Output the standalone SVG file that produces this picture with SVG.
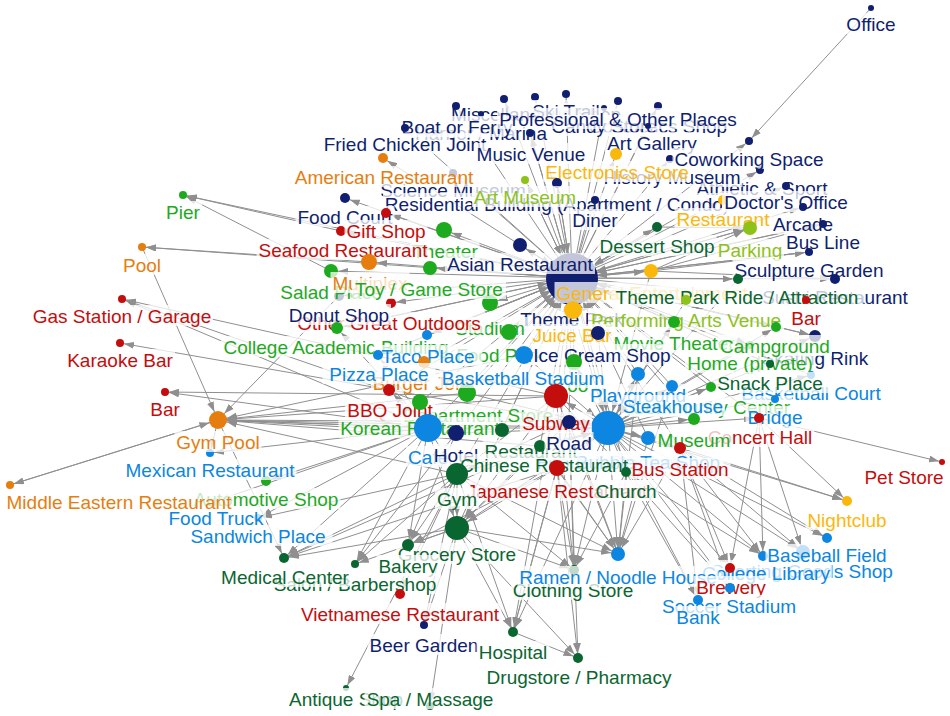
<svg xmlns="http://www.w3.org/2000/svg" width="950" height="716" viewBox="0 0 950 716">
<style>
#edges path{fill:none;stroke:#8f8f8f;stroke-width:1}
marker path{fill:#8f8f8f}
.r3{marker-end:url(#a3)}.r4{marker-end:url(#a4)}.r5{marker-end:url(#a5)}.r6{marker-end:url(#a6)}.r7{marker-end:url(#a7)}.r8{marker-end:url(#a8)}.r9{marker-end:url(#a9)}.r11{marker-end:url(#a11)}.r12{marker-end:url(#a12)}.r14{marker-end:url(#a14)}.r17{marker-end:url(#a17)}.r25{marker-end:url(#a25)}
text{font-family:"Liberation Sans",Arial,sans-serif;font-size:19px;text-anchor:middle}
.lb{fill:#fff;fill-opacity:.75}
.N{fill:#101f70}.O{fill:#e67e0f}.R{fill:#c40d0d}.G{fill:#1eaa1e}.D{fill:#0a6630}.B{fill:#0c86e0}.Y{fill:#fbb80c}.L{fill:#8cc21a}
</style>
<defs>
<marker id="a3" markerUnits="userSpaceOnUse" markerWidth="10" markerHeight="7" refX="13" refY="3.5" orient="auto"><path d="M0,0L10,3.5L0,7z"/></marker>
<marker id="a4" markerUnits="userSpaceOnUse" markerWidth="10" markerHeight="7" refX="14" refY="3.5" orient="auto"><path d="M0,0L10,3.5L0,7z"/></marker>
<marker id="a5" markerUnits="userSpaceOnUse" markerWidth="10" markerHeight="7" refX="15" refY="3.5" orient="auto"><path d="M0,0L10,3.5L0,7z"/></marker>
<marker id="a6" markerUnits="userSpaceOnUse" markerWidth="10" markerHeight="7" refX="16" refY="3.5" orient="auto"><path d="M0,0L10,3.5L0,7z"/></marker>
<marker id="a7" markerUnits="userSpaceOnUse" markerWidth="10" markerHeight="7" refX="17" refY="3.5" orient="auto"><path d="M0,0L10,3.5L0,7z"/></marker>
<marker id="a8" markerUnits="userSpaceOnUse" markerWidth="10" markerHeight="7" refX="18" refY="3.5" orient="auto"><path d="M0,0L10,3.5L0,7z"/></marker>
<marker id="a9" markerUnits="userSpaceOnUse" markerWidth="10" markerHeight="7" refX="19" refY="3.5" orient="auto"><path d="M0,0L10,3.5L0,7z"/></marker>
<marker id="a11" markerUnits="userSpaceOnUse" markerWidth="10" markerHeight="7" refX="21" refY="3.5" orient="auto"><path d="M0,0L10,3.5L0,7z"/></marker>
<marker id="a12" markerUnits="userSpaceOnUse" markerWidth="10" markerHeight="7" refX="22" refY="3.5" orient="auto"><path d="M0,0L10,3.5L0,7z"/></marker>
<marker id="a14" markerUnits="userSpaceOnUse" markerWidth="10" markerHeight="7" refX="24" refY="3.5" orient="auto"><path d="M0,0L10,3.5L0,7z"/></marker>
<marker id="a17" markerUnits="userSpaceOnUse" markerWidth="10" markerHeight="7" refX="27" refY="3.5" orient="auto"><path d="M0,0L10,3.5L0,7z"/></marker>
<marker id="a25" markerUnits="userSpaceOnUse" markerWidth="10" markerHeight="7" refX="35" refY="3.5" orient="auto"><path d="M0,0L10,3.5L0,7z"/></marker>
</defs>
<rect width="950" height="716" fill="#fff"/>
<g id="edges">
<path class="r4" d="M572 278L535 97"/><path class="r4" d="M572 278L566 94"/><path class="r4" d="M572 278L618 101"/><path class="r4" d="M572 278L504 99"/><path class="r4" d="M572 278L456 106"/><path class="r4" d="M572 278L405 128"/><path class="r4" d="M572 278L530 133"/><path class="r4" d="M572 278L658 106"/><path class="r4" d="M572 278L670 159"/><path class="r4" d="M572 278L749 141"/><path class="r4" d="M572 278L760 170"/><path class="r4" d="M572 278L786 186"/><path class="r4" d="M572 278L453 173"/><path class="r4" d="M572 278L525 180"/><path class="r4" d="M572 278L595 200"/><path class="r4" d="M572 278L803 207"/><path class="r4" d="M572 278L823 224"/><path class="r4" d="M572 278L809 252"/><path class="r4" d="M572 278L806 300"/><path class="r4" d="M572 278L750 345"/><path class="r4" d="M572 278L770 364"/><path class="r4" d="M572 278L183 195"/><path class="r4" d="M572 278L142 247"/>
<path class="r3" d="M572 278L604 108"/><path class="r3" d="M572 278L648 126"/>
<path class="r5" d="M572 278L557 183"/><path class="r5" d="M572 278L383 158"/><path class="r5" d="M572 278L345 198"/><path class="r5" d="M572 278L386 213"/><path class="r5" d="M572 278L723 200"/><path class="r5" d="M572 278L657 227"/><path class="r5" d="M572 278L341 231"/><path class="r5" d="M572 278L738 279"/><path class="r5" d="M572 278L835 279"/><path class="r5" d="M572 278L686 300"/><path class="r5" d="M572 278L776 327"/><path class="r5" d="M572 278L391 303"/><path class="r5" d="M572 278L339 296"/><path class="r5" d="M572 278L427 335"/><path class="r5" d="M572 278L378 355"/>
<path class="r6" d="M572 278L616 154"/><path class="r6" d="M572 278L815 336"/><path class="r6" d="M572 278L674 322"/><path class="r6" d="M572 278L337 328"/>
<path class="r7" d="M572 278L750 228"/><path class="r7" d="M572 278L651 271"/><path class="r7" d="M572 278L520 245"/><path class="r7" d="M572 278L331 271"/><path class="r7" d="M572 278L430 268"/><path class="r7" d="M572 278L598 333"/>
<path class="r8" d="M572 278L444 230"/><path class="r8" d="M572 278L369 262"/><path class="r8" d="M572 278L490 303"/><path class="r8" d="M572 278L509 332"/><path class="r9" d="M572 278L573 310"/>
<path class="r25" d="M524 355L572 278"/><path class="r25" d="M574 362L572 278"/><path class="r25" d="M556 396L572 278"/><path class="r25" d="M569 422L572 278"/><path class="r25" d="M608 428L572 278"/><path class="r25" d="M428 428L572 278"/><path class="r25" d="M467 393L572 278"/><path class="r25" d="M420 402L572 278"/><path class="r25" d="M424 362L572 278"/><path class="r25" d="M389 390L572 278"/><path class="r25" d="M456 433L572 278"/><path class="r25" d="M638 374L572 278"/><path class="r25" d="M672 386L572 278"/><path class="r25" d="M711 387L572 278"/><path class="r25" d="M694 419L572 278"/><path class="r25" d="M540 446L572 278"/><path class="r25" d="M557 468L572 278"/><path class="r25" d="M626 472L572 278"/><path class="r25" d="M457 474L572 278"/><path class="r25" d="M457 528L572 278"/><path class="r25" d="M502 430L572 278"/><path class="r25" d="M680 448L572 278"/><path class="r25" d="M648 438L572 278"/><path class="r25" d="M520 245L572 278"/><path class="r25" d="M525 180L572 278"/><path class="r25" d="M530 133L572 278"/><path class="r25" d="M657 227L572 278"/><path class="r25" d="M557 183L572 278"/><path class="r25" d="M651 271L572 278"/><path class="r25" d="M427 335L572 278"/><path class="r25" d="M337 328L572 278"/><path class="r25" d="M378 355L572 278"/><path class="r25" d="M823 224L572 278"/><path class="r25" d="M750 228L572 278"/><path class="r25" d="M809 252L572 278"/><path class="r25" d="M815 336L572 278"/><path class="r25" d="M776 327L572 278"/><path class="r25" d="M759 418L572 278"/><path class="r25" d="M811 375L572 278"/><path class="r25" d="M770 364L572 278"/>
<path class="r7" d="M608 428L638 374"/><path class="r7" d="M608 428L648 438"/><path class="r7" d="M608 428L569 422"/><path class="r7" d="M608 428L618 554"/><path class="r7" d="M608 428L803 552"/>
<path class="r6" d="M608 428L672 386"/><path class="r6" d="M608 428L694 419"/><path class="r6" d="M608 428L680 448"/><path class="r6" d="M608 428L674 322"/><path class="r6" d="M608 428L815 336"/>
<path class="r5" d="M608 428L711 387"/><path class="r5" d="M608 428L759 418"/><path class="r5" d="M608 428L626 472"/><path class="r5" d="M608 428L574 570"/><path class="r5" d="M608 428L730 588"/><path class="r5" d="M608 428L698 600"/><path class="r5" d="M608 428L730 568"/><path class="r5" d="M608 428L763 556"/><path class="r5" d="M608 428L827 538"/><path class="r5" d="M608 428L847 501"/><path class="r5" d="M608 428L513 632"/><path class="r5" d="M608 428L776 327"/>
<path class="r4" d="M608 428L770 364"/><path class="r4" d="M608 428L811 375"/><path class="r4" d="M608 428L775 399"/><path class="r4" d="M608 428L120 343"/><path class="r4" d="M608 428L750 345"/>
<path class="r12" d="M608 428L556 396"/><path class="r8" d="M608 428L557 468"/><path class="r8" d="M608 428L574 362"/><path class="r9" d="M608 428L218 420"/>
<path class="r17" d="M598 333L608 428"/><path class="r17" d="M573 310L608 428"/><path class="r17" d="M651 271L608 428"/><path class="r17" d="M686 300L608 428"/><path class="r17" d="M738 279L608 428"/><path class="r17" d="M428 428L608 428"/><path class="r17" d="M524 355L608 428"/><path class="r17" d="M456 433L608 428"/><path class="r17" d="M540 446L608 428"/><path class="r17" d="M457 474L608 428"/><path class="r17" d="M457 528L608 428"/><path class="r17" d="M467 393L608 428"/>
<path class="r9" d="M428 428L218 420"/><path class="r4" d="M428 428L122 299"/><path class="r4" d="M428 428L165 392"/><path class="r4" d="M428 428L210 453"/><path class="r5" d="M428 428L266 481"/><path class="r4" d="M428 428L216 501"/><path class="r4" d="M428 428L258 518"/><path class="r5" d="M428 428L284 558"/><path class="r4" d="M428 428L355 564"/><path class="r6" d="M428 428L408 545"/><path class="r8" d="M428 428L420 402"/><path class="r6" d="M428 428L389 390"/><path class="r5" d="M428 428L378 355"/><path class="r6" d="M428 428L337 328"/><path class="r12" d="M428 428L457 528"/><path class="r11" d="M428 428L457 474"/>
<path class="r5" d="M457 474L284 558"/><path class="r4" d="M457 474L355 564"/><path class="r6" d="M457 474L408 545"/><path class="r3" d="M457 474L346 688"/><path class="r5" d="M457 474L400 594"/><path class="r4" d="M457 474L424 625"/><path class="r5" d="M457 474L513 632"/><path class="r5" d="M457 474L574 570"/><path class="r7" d="M457 474L618 554"/><path class="r9" d="M457 474L218 420"/><path class="r4" d="M457 474L258 518"/><path class="r12" d="M457 474L457 528"/>
<path class="r4" d="M457 528L430 706"/><path class="r5" d="M457 528L513 632"/><path class="r5" d="M457 528L578 658"/><path class="r5" d="M457 528L284 558"/><path class="r4" d="M457 528L355 564"/><path class="r6" d="M457 528L408 545"/><path class="r5" d="M457 528L574 570"/><path class="r7" d="M457 528L618 554"/><path class="r4" d="M457 528L424 625"/>
<path class="r4" d="M556 396L165 392"/><path class="r9" d="M556 396L218 420"/><path class="r4" d="M556 396L122 299"/><path class="r7" d="M556 396L618 554"/><path class="r5" d="M556 396L574 570"/><path class="r5" d="M556 396L513 632"/><path class="r5" d="M556 396L626 472"/><path class="r12" d="M556 396L457 528"/><path class="r11" d="M556 396L457 474"/>
<path class="r7" d="M569 422L618 554"/><path class="r5" d="M569 422L574 570"/><path class="r5" d="M569 422L513 632"/><path class="r12" d="M569 422L457 528"/><path class="r11" d="M569 422L457 474"/><path class="r5" d="M569 422L578 658"/><path class="r9" d="M569 422L218 420"/>
<path class="r7" d="M557 468L618 554"/><path class="r5" d="M557 468L574 570"/><path class="r5" d="M557 468L578 658"/><path class="r5" d="M557 468L513 632"/><path class="r12" d="M557 468L457 528"/><path class="r6" d="M557 468L408 545"/><path class="r5" d="M557 468L284 558"/>
<path class="r7" d="M626 472L618 554"/><path class="r5" d="M626 472L698 600"/><path class="r5" d="M626 472L730 588"/><path class="r5" d="M626 472L763 556"/><path class="r5" d="M626 472L574 570"/>
<path class="r7" d="M680 448L803 552"/><path class="r5" d="M680 448L763 556"/><path class="r5" d="M680 448L827 538"/><path class="r5" d="M680 448L847 501"/><path class="r5" d="M680 448L730 588"/><path class="r5" d="M680 448L698 600"/><path class="r7" d="M680 448L618 554"/><path class="r5" d="M680 448L730 568"/>
<path class="r3" d="M759 418L942 462"/><path class="r5" d="M759 418L847 501"/><path class="r7" d="M759 418L803 552"/><path class="r5" d="M759 418L730 568"/><path class="r5" d="M759 418L763 556"/>
<path class="r7" d="M540 446L618 554"/><path class="r12" d="M540 446L457 528"/><path class="r9" d="M540 446L218 420"/><path class="r5" d="M540 446L284 558"/>
<path class="r9" d="M456 433L218 420"/><path class="r6" d="M456 433L408 545"/><path class="r4" d="M456 433L355 564"/>
<path class="r9" d="M524 355L218 420"/><path class="r9" d="M502 430L218 420"/><path class="r9" d="M467 393L218 420"/><path class="r4" d="M420 402L122 299"/>
<path class="r9" d="M142 247L218 420"/><path class="r4" d="M218 420L10 485"/><path class="r9" d="M10 485L218 420"/><path class="r9" d="M339 296L218 420"/>
<path class="r4" d="M331 271L183 195"/><path class="r4" d="M341 231L183 195"/><path class="r4" d="M369 262L142 247"/>
<path class="r4" d="M871 8L749 141"/><path class="r5" d="M513 632L578 658"/>
<path class="r7" d="M648 438L618 554"/><path class="r7" d="M672 386L618 554"/><path class="r7" d="M638 374L618 554"/>
<path class="r5" d="M218 420L284 558"/><path class="r4" d="M218 420L210 453"/>
<path class="r7" d="M651 271L750 228"/><path class="r4" d="M651 271L809 252"/><path class="r4" d="M651 271L823 224"/><path class="r7" d="M657 227L750 228"/><path class="r5" d="M651 271L835 279"/>
</g>
<g id="nodes">
<g id="n-msc"><circle class="N" cx="535" cy="97" r="4"/><rect class="lb" x="449" y="103" width="174" height="21"/><text class="N" x="536" y="121">Miscellaneous Shop</text></g>
<g id="n-ski"><circle class="N" cx="566" cy="94" r="4"/><rect class="lb" x="529.5" y="100" width="73" height="21"/><text class="N" x="566" y="118">Ski Trail</text></g>
<g id="n-504"><circle class="N" cx="504" cy="99" r="4"/></g>
<g id="n-cosm"><circle class="N" cx="658" cy="106" r="4"/><rect class="lb" x="587" y="115" width="142" height="21"/><text class="N" x="658" y="133">Cosmetics Shop</text></g>
<g id="n-candy"><circle class="N" cx="604" cy="108" r="3"/><rect class="lb" x="549" y="115" width="110" height="21"/><text class="N" x="604" y="133">Candy Store</text></g>
<g id="n-harb"><circle class="N" cx="481" cy="114" r="3"/><rect class="lb" x="413" y="122" width="136" height="21"/><text class="N" x="481" y="140">Harbor / Marina</text></g>
<g id="n-boat"><circle class="N" cx="456" cy="106" r="4"/><rect class="lb" x="399.5" y="116" width="115" height="21"/><text class="N" x="457" y="134">Boat or Ferry</text></g>
<g id="n-prf"><circle class="N" cx="618" cy="101" r="4"/><rect class="lb" x="497" y="108" width="242" height="21"/><text class="N" x="618" y="126">Professional &amp; Other Places</text></g>
<g id="n-artg"><circle class="N" cx="648" cy="126" r="3"/><rect class="lb" x="605" y="132" width="94" height="21"/><text class="N" x="652" y="150">Art Gallery</text></g>
<g id="n-fcj"><circle class="N" cx="405" cy="128" r="4"/><rect class="lb" x="321.5" y="133" width="167" height="21"/><text class="N" x="405" y="151">Fried Chicken Joint</text></g>
<g id="n-mus"><circle class="N" cx="530" cy="133" r="4"/><rect class="lb" x="474" y="143" width="114" height="21"/><text class="N" x="531" y="161">Music Venue</text></g>
<g id="n-athl"><circle class="N" cx="760" cy="170" r="4"/><rect class="lb" x="694.5" y="177" width="135" height="21"/><text class="N" x="762" y="195">Athletic &amp; Sport</text></g>
<g id="n-hist"><circle class="N" cx="670" cy="159" r="4"/><rect class="lb" x="601.5" y="166" width="141" height="21"/><text class="N" x="672" y="184">History Museum</text></g>
<g id="n-elec"><circle class="Y" cx="616" cy="154" r="6"/><rect class="lb" x="543" y="161" width="148" height="21"/><text class="Y" x="617" y="179">Electronics Store</text></g>
<g id="n-cowk"><circle class="N" cx="749" cy="141" r="4"/><rect class="lb" x="672.5" y="148" width="153" height="21"/><text class="N" x="749" y="166">Coworking Space</text></g>
<g id="n-off"><circle class="N" cx="871" cy="8" r="3"/><rect class="lb" x="844" y="13" width="54" height="21"/><text class="N" x="871" y="31">Office</text></g>
<g id="n-sci"><circle class="N" cx="453" cy="173" r="4"/><rect class="lb" x="378" y="179" width="150" height="21"/><text class="N" x="453" y="197">Science Museum</text></g>
<g id="n-resid"><circle class="N" cx="557" cy="183" r="5"/><rect class="lb" x="383" y="193" width="348" height="21"/><text class="N" x="557" y="211">Residential Building (Apartment / Condo)</text></g>
<g id="n-artm"><circle class="L" cx="525" cy="180" r="4"/><rect class="lb" x="472" y="186" width="106" height="21"/><text class="L" x="525" y="204">Art Museum</text></g>
<g id="n-amer"><circle class="O" cx="383" cy="158" r="5"/><rect class="lb" x="293" y="166" width="182" height="21"/><text class="O" x="384" y="184">American Restaurant</text></g>
<g id="n-fcourt"><circle class="N" cx="345" cy="198" r="5"/><rect class="lb" x="295.5" y="206" width="99" height="21"/><text class="N" x="345" y="224">Food Court</text></g>
<g id="n-theat"><circle class="G" cx="444" cy="230" r="8"/><rect class="lb" x="410.5" y="240" width="69" height="21"/><text class="G" x="445" y="258">Theater</text></g>
<g id="n-seaf"><circle class="R" cx="341" cy="231" r="5"/><rect class="lb" x="256.5" y="239" width="173" height="21"/><text class="R" x="343" y="257">Seafood Restaurant</text></g>
<g id="n-gift"><circle class="R" cx="386" cy="213" r="5"/><rect class="lb" x="344.5" y="220" width="83" height="21"/><text class="R" x="386" y="238">Gift Shop</text></g>
<g id="n-diner"><circle class="N" cx="595" cy="200" r="4"/><rect class="lb" x="570.5" y="209" width="49" height="21"/><text class="N" x="595" y="227">Diner</text></g>
<g id="n-resty"><circle class="Y" cx="723" cy="200" r="5"/><rect class="lb" x="674.5" y="208" width="97" height="21"/><text class="Y" x="723" y="226">Restaurant</text></g>
<g id="n-doc"><circle class="N" cx="786" cy="186" r="4"/><rect class="lb" x="722" y="191" width="128" height="21"/><text class="N" x="786" y="209">Doctor's Office</text></g>
<g id="n-arc"><circle class="N" cx="803" cy="207" r="4"/><rect class="lb" x="771" y="213" width="64" height="21"/><text class="N" x="803" y="231">Arcade</text></g>
<g id="n-bus"><circle class="N" cx="823" cy="224" r="4"/><rect class="lb" x="784" y="231" width="78" height="21"/><text class="N" x="823" y="249">Bus Line</text></g>
<g id="n-park"><circle class="L" cx="750" cy="228" r="7"/><rect class="lb" x="716" y="239" width="68" height="21"/><text class="L" x="750" y="257">Parking</text></g>
<g id="n-sculp"><circle class="N" cx="809" cy="252" r="4"/><rect class="lb" x="732.5" y="259" width="153" height="21"/><text class="N" x="809" y="277">Sculpture Garden</text></g>
<g id="n-dess"><circle class="D" cx="657" cy="227" r="5"/><rect class="lb" x="597.5" y="235" width="119" height="21"/><text class="D" x="657" y="253">Dessert Shop</text></g>
<g id="n-tp"><circle class="N" cx="572" cy="279" r="26"/><rect class="lb" x="518.5" y="308" width="107" height="21"/><text class="N" x="572" y="326">Theme Park</text></g>
<g id="n-asian"><circle class="N" cx="520" cy="245" r="7"/><rect class="lb" x="445" y="253" width="150" height="21"/><text class="N" x="520" y="271">Asian Restaurant</text></g>
<g id="n-sushi"><circle class="N" cx="835" cy="279" r="5"/><rect class="lb" x="760" y="286" width="150" height="21"/><text class="N" x="835" y="304">Sushi Restaurant</text></g>
<g id="n-gen"><circle class="Y" cx="651" cy="271" r="7"/><rect class="lb" x="554.5" y="282" width="195" height="21"/><text class="Y" x="652" y="300">General Entertainment</text></g>
<g id="n-tpr"><circle class="D" cx="738" cy="279" r="5"/><rect class="lb" x="610.5" y="286" width="253" height="21"/><text class="D" x="737" y="304">Theme Park Ride / Attraction</text></g>
<g id="n-perf"><circle class="L" cx="686" cy="300" r="5"/><rect class="lb" x="588" y="309" width="196" height="21"/><text class="L" x="686" y="327">Performing Arts Venue</text></g>
<g id="n-juice"><circle class="Y" cx="573" cy="310" r="9"/><rect class="lb" x="530.5" y="324" width="83" height="21"/><text class="Y" x="572" y="342">Juice Bar</text></g>
<g id="n-barr"><circle class="R" cx="806" cy="300" r="4"/><rect class="lb" x="789" y="307" width="34" height="21"/><text class="R" x="806" y="325">Bar</text></g>
<g id="n-skate"><circle class="N" cx="815" cy="336" r="6"/><rect class="lb" x="759.5" y="347" width="111" height="21"/><text class="N" x="815" y="365">Skating Rink</text></g>
<g id="n-movie"><circle class="G" cx="674" cy="322" r="6"/><rect class="lb" x="611.5" y="332" width="125" height="21"/><text class="G" x="674" y="350">Movie Theater</text></g>
<g id="n-home"><circle class="G" cx="750" cy="345" r="4"/><rect class="lb" x="685" y="352" width="130" height="21"/><text class="G" x="750" y="370">Home (private)</text></g>
<g id="n-camp"><circle class="G" cx="776" cy="327" r="5"/><rect class="lb" x="718" y="335" width="114" height="21"/><text class="G" x="775" y="353">Campground</text></g>
<g id="n-bcourt"><circle class="B" cx="811" cy="375" r="4"/><rect class="lb" x="739.5" y="382" width="143" height="21"/><text class="B" x="811" y="400">Basketball Court</text></g>
<g id="n-snack"><circle class="D" cx="770" cy="364" r="4"/><rect class="lb" x="710.5" y="372" width="119" height="21"/><text class="D" x="770" y="390">Snack Place</text></g>
<g id="n-comm"><circle class="G" cx="711" cy="387" r="5"/><rect class="lb" x="630" y="396" width="162" height="21"/><text class="G" x="711" y="414">Community Center</text></g>
<g id="n-bridge"><circle class="B" cx="775" cy="399" r="4"/><rect class="lb" x="745.5" y="406" width="59" height="21"/><text class="B" x="775" y="424">Bridge</text></g>
<g id="n-conc"><circle class="R" cx="759" cy="418" r="5"/><rect class="lb" x="705.5" y="426" width="109" height="21"/><text class="R" x="760" y="444">Concert Hall</text></g>
<g id="n-play"><circle class="B" cx="638" cy="374" r="7"/><rect class="lb" x="588" y="384" width="100" height="21"/><text class="B" x="638" y="402">Playground</text></g>
<g id="n-steak"><circle class="B" cx="672" cy="386" r="6"/><rect class="lb" x="621" y="395" width="104" height="21"/><text class="B" x="673" y="413">Steakhouse</text></g>
<g id="n-muse"><circle class="G" cx="694" cy="419" r="6"/><rect class="lb" x="655.5" y="429" width="77" height="21"/><text class="G" x="694" y="447">Museum</text></g>
<g id="n-bb"><circle class="B" cx="608" cy="428" r="17"/><rect class="lb" x="534.5" y="451" width="147" height="21"/><text class="B" x="608" y="469">Football Stadium</text></g>
<g id="n-bubble"><circle class="B" cx="648" cy="438" r="7"/><rect class="lb" x="572.5" y="451" width="151" height="21"/><text class="B" x="648" y="469">Bubble Tea Shop</text></g>
<g id="n-busst"><circle class="R" cx="680" cy="448" r="6"/><rect class="lb" x="629.5" y="458" width="101" height="21"/><text class="R" x="680" y="476">Bus Station</text></g>
<g id="n-stad"><circle class="G" cx="490" cy="303" r="8"/><rect class="lb" x="453" y="317" width="74" height="21"/><text class="G" x="490" y="335">Stadium</text></g>
<g id="n-ogo"><circle class="R" cx="391" cy="303" r="5"/><rect class="lb" x="292.5" y="312" width="193" height="21"/><text class="R" x="389" y="330">Other Great Outdoors</text></g>
<g id="n-donut"><circle class="N" cx="339" cy="296" r="5"/><rect class="lb" x="287" y="304" width="104" height="21"/><text class="N" x="339" y="322">Donut Shop</text></g>
<g id="n-salad"><circle class="G" cx="331" cy="271" r="7"/><rect class="lb" x="278.5" y="281" width="105" height="21"/><text class="G" x="331" y="299">Salad Place</text></g>
<g id="n-multi"><circle class="O" cx="369" cy="262" r="8"/><rect class="lb" x="330.5" y="272" width="79" height="21"/><text class="O" x="370" y="290">Multiplex</text></g>
<g id="n-toy"><circle class="G" cx="430" cy="268" r="7"/><rect class="lb" x="352" y="278" width="154" height="21"/><text class="G" x="429" y="296">Toy / Game Store</text></g>
<g id="n-coll"><circle class="G" cx="337" cy="328" r="6"/><rect class="lb" x="221" y="336" width="230" height="21"/><text class="G" x="336" y="354">College Academic Building</text></g>
<g id="n-fpark"><circle class="G" cx="509" cy="332" r="8"/><rect class="lb" x="454" y="344" width="92" height="21"/><text class="G" x="500" y="362">Food Park</text></g>
<g id="n-taco"><circle class="B" cx="427" cy="335" r="5"/><rect class="lb" x="373.5" y="345" width="109" height="21"/><text class="B" x="428" y="363">Taco Place</text></g>
<g id="n-ice"><circle class="N" cx="598" cy="333" r="7"/><rect class="lb" x="531.5" y="344" width="141" height="21"/><text class="N" x="602" y="362">Ice Cream Shop</text></g>
<g id="n-burger"><circle class="O" cx="424" cy="362" r="6"/><rect class="lb" x="371" y="372" width="106" height="21"/><text class="O" x="424" y="390">Burger Joint</text></g>
<g id="n-pizza"><circle class="B" cx="378" cy="355" r="5"/><rect class="lb" x="322.5" y="363" width="113" height="21"/><text class="B" x="379" y="381">Pizza Place</text></g>
<g id="n-zoo"><circle class="G" cx="574" cy="362" r="8"/><rect class="lb" x="553.5" y="374" width="37" height="21"/><text class="G" x="572" y="392">Zoo</text></g>
<g id="n-dept"><circle class="G" cx="467" cy="393" r="9"/><rect class="lb" x="401" y="404" width="154" height="21"/><text class="G" x="478" y="422">Department Store</text></g>
<g id="n-bstad"><circle class="B" cx="524" cy="355" r="9"/><rect class="lb" x="439.5" y="367" width="167" height="21"/><text class="B" x="523" y="385">Basketball Stadium</text></g>
<g id="n-bbq"><circle class="R" cx="389" cy="390" r="6"/><rect class="lb" x="345" y="399" width="90" height="21"/><text class="R" x="390" y="417">BBQ Joint</text></g>
<g id="n-korean"><circle class="G" cx="420" cy="402" r="8"/><rect class="lb" x="338.5" y="417" width="163" height="21"/><text class="G" x="420" y="435">Korean Restaurant</text></g>
<g id="n-cafe"><circle class="B" cx="428" cy="428" r="14"/><rect class="lb" x="406" y="446" width="44" height="21"/><text class="B" x="428" y="464">Café</text></g>
<g id="n-hotel"><circle class="N" cx="456" cy="433" r="8"/><rect class="lb" x="432" y="444" width="48" height="21"/><text class="N" x="456" y="462">Hotel</text></g>
<g id="n-restg"><circle class="D" cx="502" cy="430" r="7"/><rect class="lb" x="482.5" y="440" width="97" height="21"/><text class="D" x="531" y="458">Restaurant</text></g>
<g id="n-chin"><circle class="D" cx="540" cy="446" r="6"/><rect class="lb" x="458" y="454" width="172" height="21"/><text class="D" x="544" y="472">Chinese Restaurant</text></g>
<g id="n-subw"><circle class="R" cx="556" cy="396" r="12"/><rect class="lb" x="520" y="412" width="72" height="21"/><text class="R" x="556" y="430">Subway</text></g>
<g id="n-road"><circle class="N" cx="569" cy="422" r="7"/><rect class="lb" x="544.5" y="432" width="49" height="21"/><text class="N" x="569" y="450">Road</text></g>
<g id="n-jap"><circle class="R" cx="557" cy="468" r="8"/><rect class="lb" x="464.5" y="480" width="185" height="21"/><text class="R" x="557" y="498">Japanese Restaurant</text></g>
<g id="n-church"><circle class="D" cx="626" cy="472" r="5"/><rect class="lb" x="593.5" y="480" width="65" height="21"/><text class="D" x="626" y="498">Church</text></g>
<g id="n-gym"><circle class="D" cx="457" cy="474" r="11"/><rect class="lb" x="435" y="488" width="44" height="21"/><text class="D" x="457" y="506">Gym</text></g>
<g id="n-groc"><circle class="D" cx="457" cy="528" r="12"/><rect class="lb" x="396" y="543" width="122" height="21"/><text class="D" x="457" y="561">Grocery Store</text></g>
<g id="n-bak"><circle class="D" cx="408" cy="545" r="6"/><rect class="lb" x="376.5" y="555" width="63" height="21"/><text class="D" x="408" y="573">Bakery</text></g>
<g id="n-sand"><circle class="B" cx="258" cy="518" r="4"/><rect class="lb" x="183.5" y="525" width="149" height="21"/><text class="B" x="258" y="543">Sandwich Place</text></g>
<g id="n-ftruck"><circle class="B" cx="216" cy="501" r="4"/><rect class="lb" x="166" y="507" width="100" height="21"/><text class="B" x="216" y="525">Food Truck</text></g>
<g id="n-auto"><circle class="G" cx="266" cy="481" r="5"/><rect class="lb" x="191.5" y="488" width="149" height="21"/><text class="G" x="266" y="506">Automotive Shop</text></g>
<g id="n-mid"><circle class="O" cx="10" cy="485" r="4"/><rect class="lb" x="4.5" y="491" width="229" height="21"/><text class="O" x="119" y="509">Middle Eastern Restaurant</text></g>
<g id="n-mex"><circle class="B" cx="210" cy="453" r="4"/><rect class="lb" x="123.5" y="459" width="173" height="21"/><text class="B" x="210" y="477">Mexican Restaurant</text></g>
<g id="n-gp"><circle class="O" cx="218" cy="420" r="9"/><rect class="lb" x="174.5" y="431" width="87" height="21"/><text class="O" x="218" y="449">Gym Pool</text></g>
<g id="n-bar2"><circle class="R" cx="165" cy="392" r="4"/><rect class="lb" x="148" y="398" width="34" height="21"/><text class="R" x="165" y="416">Bar</text></g>
<g id="n-kara"><circle class="R" cx="120" cy="343" r="4"/><rect class="lb" x="65" y="349" width="110" height="21"/><text class="R" x="120" y="367">Karaoke Bar</text></g>
<g id="n-gas"><circle class="R" cx="122" cy="299" r="4"/><rect class="lb" x="31" y="305" width="182" height="21"/><text class="R" x="122" y="323">Gas Station / Garage</text></g>
<g id="n-pool"><circle class="O" cx="142" cy="247" r="4"/><rect class="lb" x="121" y="254" width="42" height="21"/><text class="O" x="142" y="272">Pool</text></g>
<g id="n-pier"><circle class="G" cx="183" cy="195" r="4"/><rect class="lb" x="164" y="201" width="38" height="21"/><text class="G" x="183" y="219">Pier</text></g>
<g id="n-salon"><circle class="D" cx="355" cy="564" r="4"/><rect class="lb" x="269" y="573" width="172" height="21"/><text class="D" x="355" y="591">Salon / Barbershop</text></g>
<g id="n-med"><circle class="D" cx="284" cy="558" r="5"/><rect class="lb" x="221" y="566" width="128" height="21"/><text class="D" x="285" y="584">Medical Center</text></g>
<g id="n-viet"><circle class="R" cx="400" cy="594" r="5"/><rect class="lb" x="298.5" y="603" width="203" height="21"/><text class="R" x="400" y="621">Vietnamese Restaurant</text></g>
<g id="n-beer"><circle class="N" cx="424" cy="625" r="4"/><rect class="lb" x="367.5" y="634" width="113" height="21"/><text class="N" x="424" y="652">Beer Garden</text></g>
<g id="n-anti"><circle class="D" cx="346" cy="688" r="3"/><rect class="lb" x="287" y="688" width="118" height="21"/><text class="D" x="346" y="706">Antique Shop</text></g>
<g id="n-spa"><circle class="D" cx="430" cy="706" r="4"/><rect class="lb" x="364.5" y="688" width="131" height="21"/><text class="D" x="430" y="706">Spa / Massage</text></g>
<g id="n-hosp"><circle class="D" cx="513" cy="632" r="5"/><rect class="lb" x="476.5" y="641" width="73" height="21"/><text class="D" x="513" y="659">Hospital</text></g>
<g id="n-drug"><circle class="D" cx="578" cy="658" r="5"/><rect class="lb" x="484.5" y="666" width="189" height="21"/><text class="D" x="579" y="684">Drugstore / Pharmacy</text></g>
<g id="n-cloth"><circle class="D" cx="574" cy="570" r="5"/><rect class="lb" x="511" y="579" width="124" height="21"/><text class="D" x="573" y="597">Clothing Store</text></g>
<g id="n-sport"><circle class="B" cx="803" cy="552" r="7"/><rect class="lb" x="709" y="560" width="186" height="21"/><text class="B" x="802" y="578">Sporting Goods Shop</text></g>
<g id="n-lib"><circle class="B" cx="763" cy="556" r="5"/><rect class="lb" x="700" y="562" width="132" height="21"/><text class="B" x="766" y="580">College Library</text></g>
<g id="n-ramen"><circle class="B" cx="618" cy="554" r="7"/><rect class="lb" x="517.5" y="566" width="201" height="21"/><text class="B" x="618" y="584">Ramen / Noodle House</text></g>
<g id="n-brew"><circle class="R" cx="730" cy="568" r="5"/><rect class="lb" x="694" y="576" width="74" height="21"/><text class="R" x="731" y="594">Brewery</text></g>
<g id="n-socc"><circle class="B" cx="730" cy="588" r="5"/><rect class="lb" x="660" y="595" width="138" height="21"/><text class="B" x="729" y="613">Soccer Stadium</text></g>
<g id="n-bank"><circle class="B" cx="698" cy="600" r="5"/><rect class="lb" x="674.5" y="606" width="47" height="21"/><text class="B" x="698" y="624">Bank</text></g>
<g id="n-bfield"><circle class="B" cx="827" cy="538" r="5"/><rect class="lb" x="765.5" y="544" width="123" height="21"/><text class="B" x="827" y="562">Baseball Field</text></g>
<g id="n-night"><circle class="Y" cx="847" cy="501" r="5"/><rect class="lb" x="805.5" y="509" width="83" height="21"/><text class="Y" x="847" y="527">Nightclub</text></g>
<g id="n-pet"><circle class="R" cx="942" cy="462" r="3"/><rect class="lb" x="862.5" y="466" width="83" height="21"/><text class="R" x="904" y="484">Pet Store</text></g>
</g>
</svg>
